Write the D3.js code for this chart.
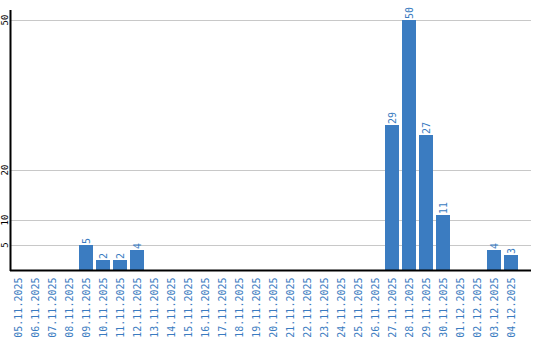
<!DOCTYPE html>
<html><head><meta charset="utf-8">
<script src="https://cdn.jsdelivr.net/npm/d3@7"></script>
<style>body{margin:0;background:#fff}svg{display:block}</style>
</head><body>
<script>
const categories = ["05.11.2025","06.11.2025","07.11.2025","08.11.2025","09.11.2025","10.11.2025","11.11.2025","12.11.2025","13.11.2025","14.11.2025","15.11.2025","16.11.2025","17.11.2025","18.11.2025","19.11.2025","20.11.2025","21.11.2025","22.11.2025","23.11.2025","24.11.2025","25.11.2025","26.11.2025","27.11.2025","28.11.2025","29.11.2025","30.11.2025","01.12.2025","02.12.2025","03.12.2025","04.12.2025"];
const values = [0,0,0,0,5,2,2,4,0,0,0,0,0,0,0,0,0,0,0,0,0,0,29,50,27,11,0,0,4,3];
const yTicks = [5,10,20,50];

const W = 540, H = 340;
const svg = d3.select("body").append("svg").attr("width", W).attr("height", H);
const x = d3.scaleBand().domain(categories).range([9.5, 519.5]).paddingInner(3/17).paddingOuter(1.5/17);
const y = d3.scaleLinear().domain([0, 52]).range([270, 10]);
const blue = "#3b7cc1";
const mono = "'DejaVu Sans Mono', monospace";

// gridlines
svg.append("g").selectAll("line").data(yTicks).join("line")
  .attr("x1", 11).attr("x2", 531)
  .attr("y1", d => Math.round(y(d)) + 0.5).attr("y2", d => Math.round(y(d)) + 0.5)
  .attr("stroke", "#c8c8c8").attr("stroke-width", 1);

const data = values.map((v,i)=>({c:categories[i],v}));

// bars
svg.append("g").selectAll("rect").data(data.filter(d => d.v > 0)).join("rect")
  .attr("x", d => x(d.c)).attr("width", x.bandwidth())
  .attr("y", d => y(d.v)).attr("height", d => y(0) - y(d.v))
  .attr("fill", blue);

// value labels
svg.append("g").selectAll("text").data(data.filter(d => d.v > 0)).join("text")
  .attr("transform", d => `translate(${x(d.c) + x.bandwidth()/2 + 3.6},${y(d.v) - 1}) rotate(-90)`)
  .attr("font-family", mono).attr("font-size", 10).attr("fill", blue)
  .text(d => d.v);

// axes lines
svg.append("line").attr("x1", 10.5).attr("x2", 10.5).attr("y1", 10).attr("y2", 271).attr("stroke", "#000").attr("stroke-width", 2);
svg.append("line").attr("x1", 10).attr("x2", 531).attr("y1", 270.5).attr("y2", 270.5).attr("stroke", "#000").attr("stroke-width", 2);

// y tick labels
svg.append("g").selectAll("text").data(yTicks).join("text")
  .attr("transform", d => `translate(7.5,${y(d)}) rotate(-90)`)
  .attr("text-anchor", "middle")
  .attr("font-family", mono).attr("font-size", 9).attr("fill", "#000")
  .text(d => d);

// x labels
svg.append("g").selectAll("text").data(categories).join("text")
  .attr("transform", d => `translate(${x(d) + x.bandwidth()/2 + 3.6},277.5) rotate(-90)`)
  .attr("text-anchor", "end")
  .attr("font-family", mono).attr("font-size", 10).attr("fill", blue)
  .text(d => d);
</script>
</body></html>
